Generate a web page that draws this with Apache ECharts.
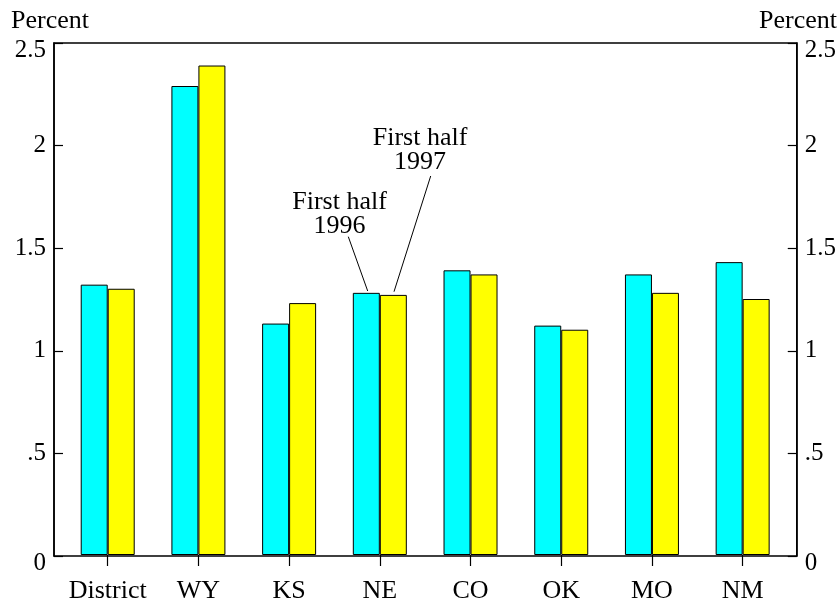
<!DOCTYPE html>
<html>
<head>
<meta charset="utf-8">
<script src="https://cdn.jsdelivr.net/npm/echarts@6/dist/echarts.min.js"></script>
<style>html,body{margin:0;padding:0;background:#fff}#c{width:839px;height:604px}</style>
</head>
<body>
<div id="c"></div>
<script>
const categories = ['District', 'WY', 'KS', 'NE', 'CO', 'OK', 'MO', 'NM'];
const firstHalf1996 = [1.32, 2.29, 1.13, 1.28, 1.39, 1.12, 1.37, 1.43];
const firstHalf1997 = [1.30, 2.39, 1.23, 1.27, 1.37, 1.10, 1.28, 1.25];
const yTicks = [0, 0.5, 1, 1.5, 2, 2.5];

const FONT = 'Liberation Serif';
const fmt = v => {
  const m = yTicks.find(t => Math.abs(t - v) < 1e-9);
  if (m === undefined) return '';
  const s = String(m).replace(/^0\./, '.');
  const edge = (m === yTicks[0] || m === yTicks[yTicks.length - 1]);
  return edge ? '{e|' + s + '}' : '{n|' + s + '}';
};

const chart = echarts.init(document.getElementById('c'), null, {renderer: 'canvas'});
const yCommon = {
  type: 'value', min: 0, max: 2.5, interval: 0.5,
  splitLine: {show: false},
  axisLine: {show: true, lineStyle: {color: '#000', width: 1.5}},
  axisTick: {show: true, inside: true, length: 9, lineStyle: {color: '#000', width: 1.2}},
  axisLabel: {color: '#000', fontFamily: FONT, fontSize: 25, margin: 8, formatter: fmt,
    rich: {
      n: {fontFamily: FONT, fontSize: 25, color: '#000'},
      e: {fontFamily: FONT, fontSize: 25, color: '#000', padding: [14, 0, 0, 0]}
    }}
};
chart.setOption({
  animation: false,
  backgroundColor: '#fff',
  grid: [
    {left: 54, right: 42, top: 43, bottom: 48, show: true, borderColor: '#000', borderWidth: 1.5, backgroundColor: 'transparent'},
    {left: 62.35, right: 51, top: 43, bottom: 48}
  ],
  xAxis: [
    {gridIndex: 0, type: 'value', min: 0, max: 1, show: false},
    {gridIndex: 1, type: 'category', data: categories,
     axisLine: {show: false},
     axisTick: {show: true, alignWithLabel: true, length: 11, lineStyle: {color: '#000', width: 1.2}},
     axisLabel: {color: '#000', fontFamily: FONT, fontSize: 26, margin: 23, interval: 0}}
  ],
  yAxis: [
    Object.assign({gridIndex: 0, position: 'left'}, yCommon),
    Object.assign({gridIndex: 0, position: 'right'}, yCommon),
    {gridIndex: 1, type: 'value', min: 0, max: 2.5, interval: 0.5, show: false}
  ],
  series: [
    {name: 'First half 1996', type: 'bar', xAxisIndex: 1, yAxisIndex: 2, data: firstHalf1996,
     barWidth: 27, barGap: '0%',
     itemStyle: {color: '#00FFFF', borderColor: '#000', borderWidth: 1}},
    {name: 'First half 1997', type: 'bar', xAxisIndex: 1, yAxisIndex: 2, data: firstHalf1997,
     barWidth: 27, barGap: '0%',
     itemStyle: {color: '#FFFF00', borderColor: '#000', borderWidth: 1}}
  ],
  graphic: [
    {type: 'text', left: 11, top: 8, style: {text: 'Percent', fontFamily: FONT, fontSize: 26, fill: '#000'}},
    {type: 'text', right: 2, top: 8, style: {text: 'Percent', fontFamily: FONT, fontSize: 26, fill: '#000'}},
    {type: 'text', x: 339.5, y: 190, style: {text: 'First half\n1996', fontFamily: FONT, fontSize: 26, lineHeight: 24, fill: '#000', align: 'center', verticalAlign: 'top'}},
    {type: 'text', x: 420, y: 126, style: {text: 'First half\n1997', fontFamily: FONT, fontSize: 26, lineHeight: 24, fill: '#000', align: 'center', verticalAlign: 'top'}},
    {type: 'line', shape: {x1: 348.3, y1: 236.7, x2: 367.7, y2: 291}, style: {stroke: '#000', lineWidth: 1}},
    {type: 'line', shape: {x1: 430.7, y1: 176, x2: 394, y2: 291.7}, style: {stroke: '#000', lineWidth: 1}}
  ]
});
</script>
</body>
</html>
